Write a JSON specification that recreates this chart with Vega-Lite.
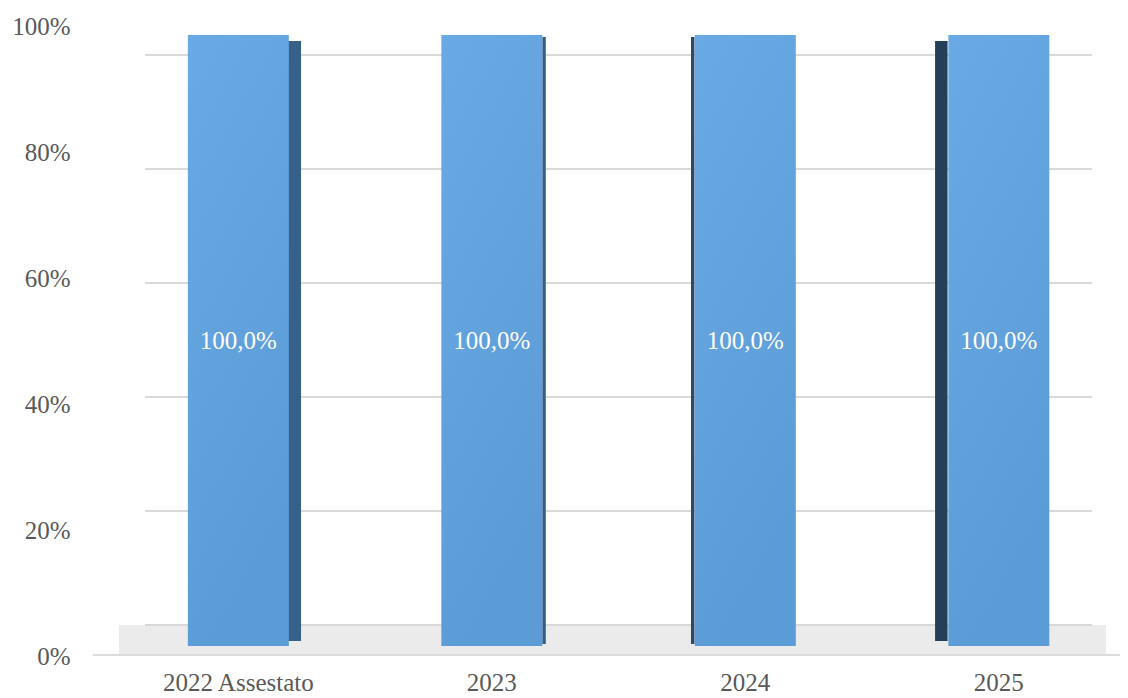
{
  "$schema": "https://vega.github.io/schema/vega-lite/v6.json",
  "width": 1027,
  "height": 640,
  "autosize": "none",
  "padding": {"left": 93, "top": 20, "right": 8, "bottom": 38},
  "config": {
    "view": {"stroke": null},
    "font": "Liberation Serif",
    "locale": {
      "number": {"decimal": ",", "thousands": ".", "grouping": [3], "currency": ["", " €"]}
    }
  },
  "datasets": {
    "bars": [
      {"anno": "2022 Assestato", "quota": 1},
      {"anno": "2023", "quota": 1},
      {"anno": "2024", "quota": 1},
      {"anno": "2025", "quota": 1}
    ],
    "ticks": [
      {"pct": 0}, {"pct": 0.2}, {"pct": 0.4}, {"pct": 0.6}, {"pct": 0.8}, {"pct": 1}
    ]
  },
  "layer": [
    {
      "data": {"name": "ticks"},
      "transform": [{"filter": "datum.pct == 0"}],
      "mark": {"type": "rect", "fill": "#ebebeb"},
      "encoding": {
        "x": {"datum": 0, "type": "quantitative", "scale": {"domain": [0, 1], "range": [26, 1013]}, "axis": null},
        "x2": {"datum": 1},
        "y": {"datum": 0, "type": "quantitative", "scale": {"domain": [0, 1], "range": [636, 605]}, "axis": null},
        "y2": {"datum": 1}
      }
    },
    {
      "data": {"name": "ticks"},
      "transform": [{"filter": "datum.pct == 0"}],
      "mark": {"type": "rule", "color": "#dcdcdc", "strokeWidth": 2},
      "encoding": {
        "x": {"datum": 0, "type": "quantitative", "scale": {"domain": [0, 1], "range": [0, 1027]}, "axis": null},
        "x2": {"datum": 1},
        "y": {"datum": 0, "type": "quantitative", "scale": {"domain": [0, 1], "range": [635, 605]}, "axis": null}
      }
    },
    {
      "data": {"name": "ticks"},
      "mark": {"type": "rule", "color": "#d9d9d9", "strokeWidth": 2},
      "encoding": {
        "x": {"datum": 0, "type": "quantitative", "scale": {"domain": [0, 1], "range": [52, 999]}, "axis": null},
        "x2": {"datum": 1},
        "y": {"field": "pct", "type": "quantitative", "scale": {"domain": [0, 1], "range": [605, 35]}, "axis": null}
      }
    },
    {
      "data": {"name": "ticks"},
      "mark": {"type": "tick", "opacity": 0},
      "encoding": {
        "y": {
          "field": "pct",
          "type": "quantitative",
          "scale": {"domain": [0, 1], "range": [636.5, 6.5]},
          "axis": {
            "orient": "left",
            "title": null,
            "values": [0, 0.2, 0.4, 0.6, 0.8, 1],
            "format": ".0%",
            "labelFont": "Liberation Serif",
            "labelFontSize": 25,
            "labelColor": "#595959",
            "labelPadding": 23,
            "ticks": false,
            "domain": false,
            "grid": false
          }
        }
      }
    },
    {
      "data": {"name": "bars"},
      "encoding": {
        "x": {
          "field": "anno",
          "type": "nominal",
          "sort": null,
          "scale": {
            "domain": ["2022 Assestato", "2023", "2024", "2025"],
            "paddingInner": 0.6016,
            "paddingOuter": 0.3265,
            "align": 0.573
          },
          "axis": {
            "orient": "bottom",
            "title": null,
            "labelAngle": 0,
            "labelFont": "Liberation Serif",
            "labelFontSize": 25,
            "labelColor": "#595959",
            "labelPadding": 10,
            "ticks": false,
            "domain": false,
            "grid": false
          }
        }
      },
      "layer": [
        {
          "transform": [{"filter": "datum.anno == '2022 Assestato'"}],
          "mark": {"type": "bar", "width": 13, "xOffset": 56.2, "fill": "#386189"},
          "encoding": {
            "y": {"field": "quota", "type": "quantitative", "scale": {"domain": [0, 1], "range": [621, 21]}, "axis": null}
          }
        },
        {
          "transform": [{"filter": "datum.anno == '2023'"}],
          "mark": {"type": "bar", "width": 3.5, "xOffset": 52.2, "fill": "#345e86"},
          "encoding": {
            "y": {"field": "quota", "type": "quantitative", "scale": {"domain": [0, 1], "range": [624, 17]}, "axis": null}
          }
        },
        {
          "transform": [{"filter": "datum.anno == '2024'"}],
          "mark": {"type": "bar", "width": 3.5, "xOffset": -52.6, "fill": "#2a4a6a"},
          "encoding": {
            "y": {"field": "quota", "type": "quantitative", "scale": {"domain": [0, 1], "range": [624, 17]}, "axis": null}
          }
        },
        {
          "transform": [{"filter": "datum.anno == '2025'"}],
          "mark": {"type": "bar", "width": 12.5, "xOffset": -57.5, "fill": "#243f58"},
          "encoding": {
            "y": {"field": "quota", "type": "quantitative", "scale": {"domain": [0, 1], "range": [621, 21]}, "axis": null}
          }
        },
        {
          "mark": {
            "type": "bar",
            "fill": {
              "gradient": "linear",
              "x1": 0, "y1": 0, "x2": 0.3, "y2": 1,
              "stops": [
                {"offset": 0, "color": "#69a9e4"},
                {"offset": 1, "color": "#5c9cd6"}
              ]
            }
          },
          "encoding": {
            "y": {"field": "quota", "type": "quantitative", "scale": {"domain": [0, 1], "range": [626, 15]}, "axis": null}
          }
        },
        {
          "mark": {
            "type": "text",
            "color": "white",
            "font": "Liberation Serif",
            "fontSize": 25,
            "baseline": "middle",
            "dy": 305.5
          },
          "encoding": {
            "y": {"field": "quota", "type": "quantitative", "scale": {"domain": [0, 1], "range": [626, 15]}, "axis": null},
            "text": {"field": "quota", "type": "quantitative", "format": ".1%"}
          }
        }
      ],
      "resolve": {"scale": {"y": "independent"}}
    }
  ],
  "resolve": {"scale": {"x": "independent", "y": "independent"}}
}
